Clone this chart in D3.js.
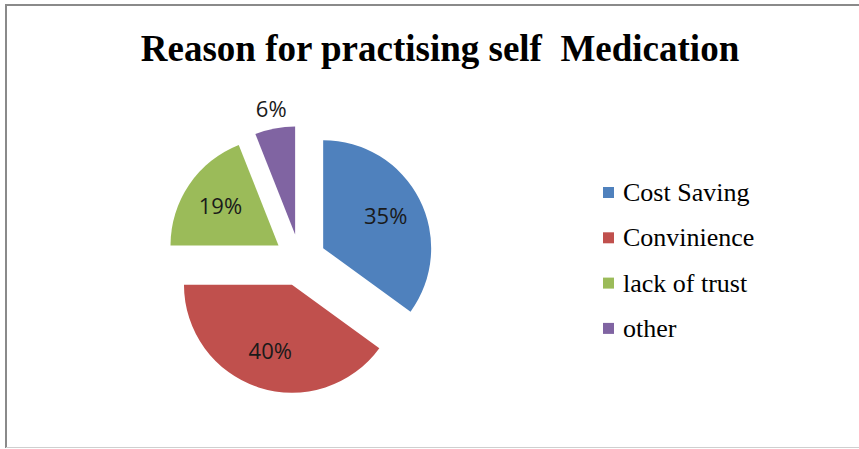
<!DOCTYPE html>
<html>
<head>
<meta charset="utf-8">
<script src="https://cdn.jsdelivr.net/npm/d3@7"></script>
<style>
  html, body { margin: 0; padding: 0; background: #fff; }
  svg { display: block; }
</style>
</head>
<body>
<svg id="chart" width="859" height="449"></svg>
<script>
// Survey results: reasons given for self medication
const categories = ["Cost Saving", "Convinience", "lack of trust", "other"];
const shares = [35, 40, 19, 6];
const sliceColors = ["#4F81BD", "#C0504D", "#9BBB59", "#8064A2"];
const chartTitle = "Reason for practising self  Medication";

const svg = d3.select("#chart");
const W = 859, H = 449;

// Chart frame
svg.append("rect").attr("width", W).attr("height", H).attr("fill", "#fff");
svg.append("line").attr("x1", 5).attr("x2", W).attr("y1", 5).attr("y2", 5)
  .attr("stroke", "#8a8a8a").attr("stroke-width", 2);
svg.append("line").attr("x1", 6).attr("x2", 6).attr("y1", 5).attr("y2", 448)
  .attr("stroke", "#8a8a8a").attr("stroke-width", 2);
svg.append("line").attr("x1", 6).attr("x2", W).attr("y1", 447.5).attr("y2", 447.5)
  .attr("stroke", "#cfcfcf").attr("stroke-width", 1);

// Title
svg.append("text")
  .attr("x", 440).attr("y", 61)
  .attr("text-anchor", "middle")
  .style("white-space", "pre")
  .attr("font-family", "'Liberation Serif', 'Times New Roman', serif")
  .attr("font-weight", "bold")
  .attr("font-size", 37)
  .attr("fill", "#000")
  .text(chartTitle);

// Exploded pie
const cx = 300, cy = 260, radius = 108, explode = 26;
const pie = d3.pie().sort(null).value(d => d);
const arcs = pie(shares);
const arc = d3.arc().innerRadius(0).outerRadius(radius);

const g = svg.append("g").attr("transform", `translate(${cx},${cy})`);

function offset(a, dist) {
  const mid = (a.startAngle + a.endAngle) / 2;
  return [Math.sin(mid) * dist, -Math.cos(mid) * dist];
}

const slice = g.selectAll("g.slice").data(arcs).enter().append("g")
  .attr("class", "slice")
  .attr("transform", d => { const [x, y] = offset(d, explode); return `translate(${x},${y})`; });

slice.append("path")
  .attr("d", arc)
  .attr("fill", (d, i) => sliceColors[i]);

// Percentage labels: inside for large slices, just outside for small ones
slice.append("text")
  .attr("transform", d => {
    const small = d.endAngle - d.startAngle < 0.5;
    const [x, y] = offset(d, small ? radius * 1.18 : radius * 0.65);
    return `translate(${x},${y})`;
  })
  .attr("text-anchor", "middle")
  .attr("dy", "0.36em")
  .attr("font-family", "'Open Sans', 'Liberation Sans', sans-serif")
  .attr("font-size", 22)
  .attr("fill", "#1a1a1a")
  .text(d => d.data + "%");

// Legend
const legend = svg.append("g").attr("transform", "translate(603,187)");
const item = legend.selectAll("g").data(categories).enter().append("g")
  .attr("transform", (d, i) => `translate(0,${i * 45.3})`);
item.append("rect")
  .attr("width", 11).attr("height", 11)
  .attr("fill", (d, i) => sliceColors[i]);
item.append("text")
  .attr("x", 20).attr("y", 14)
  .attr("font-family", "'Liberation Serif', 'Times New Roman', serif")
  .attr("font-size", 26)
  .attr("fill", "#000")
  .text(d => d);
</script>
</body>
</html>
